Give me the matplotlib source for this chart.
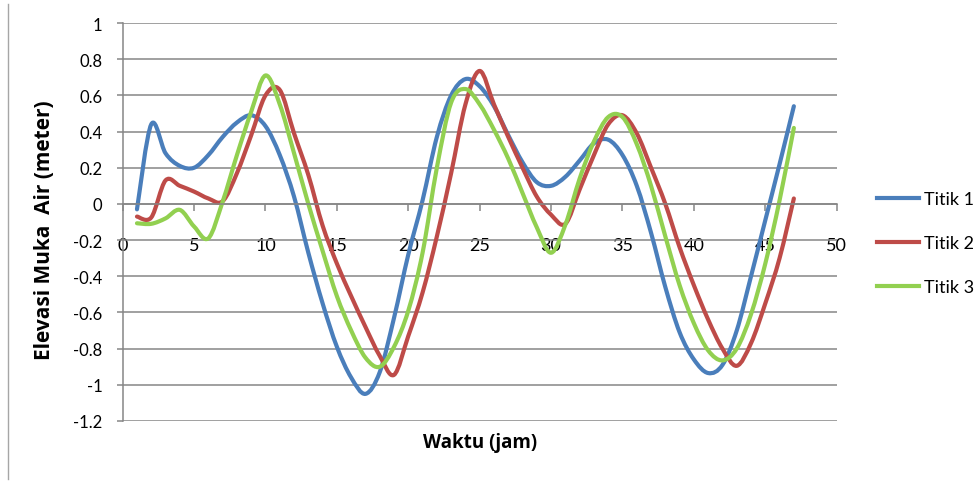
import numpy as np
import matplotlib
matplotlib.use("Agg")
import matplotlib.pyplot as plt
from matplotlib.path import Path
from matplotlib.patches import PathPatch
from matplotlib.lines import Line2D

# hourly water level readings (m)
jam = list(range(1, 48))
titik1 = [-0.03, 0.44, 0.28, 0.21, 0.20, 0.27, 0.37, 0.45, 0.49, 0.43,
          0.27, 0.04, -0.27, -0.55, -0.79, -0.96, -1.05, -0.93, -0.63, -0.28,
          0.02, 0.37, 0.60, 0.69, 0.65, 0.54, 0.38, 0.23, 0.12, 0.10,
          0.15, 0.24, 0.335, 0.355, 0.27, 0.10, -0.16, -0.46, -0.71, -0.86,
          -0.935, -0.89, -0.70, -0.40, -0.09, 0.22, 0.54]
titik2 = [-0.07, -0.075, 0.13, 0.10, 0.068, 0.03, 0.015, 0.17, 0.38, 0.60,
          0.63, 0.39, 0.16, -0.12, -0.33, -0.51, -0.68, -0.84, -0.945, -0.73,
          -0.49, -0.18, 0.17, 0.55, 0.735, 0.55, 0.37, 0.20, 0.04, -0.06,
          -0.11, 0.08, 0.27, 0.44, 0.49, 0.39, 0.20, 0.0, -0.24, -0.45,
          -0.64, -0.80, -0.895, -0.77, -0.55, -0.30, 0.03]
titik3 = [-0.107, -0.11, -0.08, -0.033, -0.125, -0.19, 0.013, 0.27, 0.51, 0.71,
          0.55, 0.28, 0.0, -0.26, -0.51, -0.70, -0.85, -0.90, -0.79, -0.59,
          -0.27, 0.20, 0.56, 0.635, 0.55, 0.41, 0.25, 0.06, -0.13, -0.27,
          -0.115, 0.14, 0.345, 0.48, 0.48, 0.33, 0.10, -0.18, -0.45, -0.66,
          -0.81, -0.865, -0.80, -0.61, -0.33, 0.02, 0.42]

series = [titik1, titik2, titik3]
labels = ["Titik 1", "Titik 2", "Titik 3"]
colors = ["#4A7EBB", "#BE4B48", "#92D050"]
yticks = [1, 0.8, 0.6, 0.4, 0.2, 0, -0.2, -0.4, -0.6, -0.8, -1, -1.2]
xticks = [0, 5, 10, 15, 20, 25, 30, 35, 40, 45, 50]


def smooth_path(x, y):
    # excel-like smoothed line: bezier segments through every point
    pts = np.column_stack([x, y]).astype(float)
    ext = np.vstack([pts[0], pts, pts[-1]])
    verts = [pts[0]]
    codes = [Path.MOVETO]
    for i in range(len(pts) - 1):
        p0, p1, p2, p3 = ext[i], ext[i + 1], ext[i + 2], ext[i + 3]
        verts += [p1 + (p2 - p0) / 6, p2 - (p3 - p1) / 6, p2]
        codes += [Path.CURVE4] * 3
    return Path(verts, codes)


plt.rcParams['font.family'] = ['Lato', 'DejaVu Sans']
grey = "#868686"

fig = plt.figure(figsize=(9.79, 4.89), dpi=100)
ax = fig.add_axes([122.7 / 979, 1 - 422 / 489, 714 / 979, 398 / 489])

ax.set_xlim(0, 50)
ax.set_ylim(-1.2, 1)
ax.set_yticks(yticks)
ax.set_yticklabels([f"{v:g}" for v in yticks])
ax.set_xticks(xticks)
ax.set_xticklabels([str(v) for v in xticks])

ax.yaxis.grid(True, color=grey, lw=1.1)
ax.set_axisbelow(True)
for s in ["top", "right"]:
    ax.spines[s].set_visible(False)
ax.spines["bottom"].set_position(("data", 0))
ax.spines["left"].set_color(grey)
ax.spines["bottom"].set_color(grey)
ax.spines["left"].set_linewidth(1.1)
ax.spines["bottom"].set_linewidth(1.1)
ax.tick_params(axis="y", direction="out", length=4.5, width=1.1, color=grey,
               labelsize=12, pad=10)
ax.tick_params(axis="x", direction="out", length=5, width=1.1, color=grey,
               labelsize=13, pad=19)

for vals, c in zip(series, colors):
    ax.add_patch(PathPatch(smooth_path(jam, vals), fill=False, edgecolor=c,
                           lw=3.0, capstyle="round", joinstyle="round"))

handles = [Line2D([], [], color=c, lw=3.0) for c in colors]
fig.legend(handles, labels, loc="center left",
           bbox_to_anchor=(877 / 979, 1 - 244 / 489), frameon=False,
           fontsize=13, handlelength=2.3, handletextpad=0.3,
           labelspacing=1.55, borderpad=0, borderaxespad=0)

title_font = ['Open Sans', 'DejaVu Sans']
fig.text(45 / 979, 1 - 230 / 489, "Elevasi Muka  Air (meter)", rotation=90,
         ha="center", va="center", fontsize=15, fontweight="bold",
         family=title_font)
fig.text(480 / 979, 1 - 443 / 489, "Waktu (jam)", ha="center", va="center",
         fontsize=13.5, fontweight="bold", family=title_font)

fig.add_artist(Line2D([8 / 979, 8 / 979], [1 - 5 / 489, 1 - 480 / 489],
                      color="#a6a6a6", lw=1))

fig.savefig("out.png", dpi=100)
